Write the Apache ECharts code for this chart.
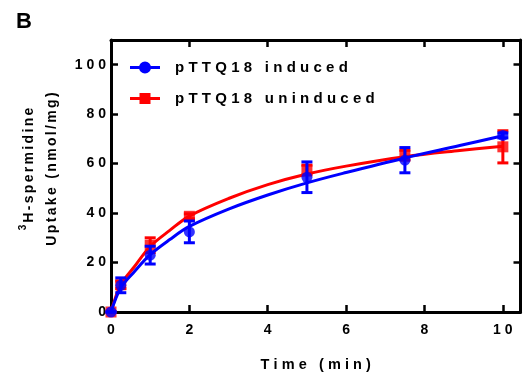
<!DOCTYPE html>
<html>
<head>
<meta charset="utf-8">
<script src="https://cdn.jsdelivr.net/npm/echarts@6/dist/echarts.min.js"></script>
<style>
  html, body { margin: 0; padding: 0; background: #fff; }
  #chart { width: 525px; height: 380px; }
</style>
</head>
<body>
<div id="chart"></div>
<script>
// Sampling times (min)
const times = [0, 0.25, 1, 2, 5, 7.5, 10];

// pTTQ18 induced: mean uptake and SEM
const inducedMean = [0, 10.8, 23.0, 32.4, 54.5, 61.4, 71.4];
const inducedSem  = [0, 3.0, 3.6, 4.4, 6.2, 5.1, 1.0];

// pTTQ18 uninduced: mean uptake and SEM
const uninducedMean = [0, 11.0, 27.0, 38.7, 57.4, 63.4, 66.8];
const uninducedSem  = [0, 1.5, 3.0, 1.0, 2.0, 2.0, 6.5];

// Fitted curves, sampled along the time axis
const fitTimes     = [0, 0.25, 0.6, 1, 1.5, 2, 3, 4, 5, 6, 7.5, 8.9, 10];
const inducedFit   = [0, 9.8, 16.4, 23.2, 29.3, 34.6, 41.6, 47.3, 52.2, 56.4, 62.3, 67.3, 71.3];
const uninducedFit = [0, 11.0, 18.4, 26.5, 33.0, 38.8, 45.9, 51.5, 55.8, 59.0, 62.8, 65.3, 67.0];

// Axis ticks
const xTicks = [0, 2, 4, 6, 8, 10];
const yTicks = [0, 20, 40, 60, 80, 100];

const seriesNames = ['pTTQ18 induced', 'pTTQ18 uninduced'];
const BLUE = '#0000FF';
const RED = '#FF0000';

// Widen the tracking of bold labels with thin / hair spaces
const spaced = s => Array.from(s).join('\u2009\u200A');
const spacedNarrow = s => Array.from(s).join('\u200A\u200A');

const pairs = (xs, ys) => xs.map((x, i) => [x, ys[i]]);
const errData = (xs, ms, es) => xs.map((x, i) => [x, ms[i] - es[i], ms[i] + es[i]]);

function errorBars(color) {
  return function (params, api) {
    const x = api.value(0);
    const lo = api.coord([x, api.value(1)]);
    const hi = api.coord([x, api.value(2)]);
    const half = 5.5;
    const style = { stroke: color, lineWidth: 3 };
    return {
      type: 'group',
      children: [
        { type: 'line', shape: { x1: lo[0], y1: lo[1], x2: hi[0], y2: hi[1] }, style },
        { type: 'line', shape: { x1: lo[0] - half, y1: lo[1], x2: lo[0] + half, y2: lo[1] }, style },
        { type: 'line', shape: { x1: hi[0] - half, y1: hi[1], x2: hi[0] + half, y2: hi[1] }, style }
      ]
    };
  };
}

const FONT = 'Liberation Sans, Arial, sans-serif';
const frameLine = { show: true, onZero: false, lineStyle: { color: '#000', width: 3 } };
const axisTick = { inside: true, length: 7, lineStyle: { color: '#000', width: 2.5 } };

// Legend keys: a short line with the series marker in its middle
const circleKey = 'path://M0,4.5h9.2v3h-9.2z M20.8,4.5h9.2v3h-9.2z M9,6a6,6 0 1,1 12,0a6,6 0 1,1 -12,0z';
const squareKey = 'path://M0,4.5h9.5v3h-9.5z M20.5,4.5h9.5v3h-9.5z M9.5,0.5h11v11h-11z';

const chart = echarts.init(document.getElementById('chart'), null, { renderer: 'canvas' });

chart.setOption({
  animation: false,
  backgroundColor: '#fff',
  title: {
    text: 'B', left: 11, top: 6,
    textStyle: { fontFamily: FONT, fontSize: 22, fontWeight: 'bold', color: '#000' }
  },
  grid: { left: 111, right: 4.5, top: 40, bottom: 68 },
  legend: {
    data: [
      { name: seriesNames[0], icon: circleKey },
      { name: seriesNames[1], icon: squareKey }
    ],
    orient: 'vertical',
    left: 125, top: 55,
    itemWidth: 30, itemHeight: 12, itemGap: 16,
    formatter: name => spaced(name),
    textStyle: { fontFamily: FONT, fontSize: 15, fontWeight: 'bold', color: '#000', padding: [0, 0, 0, 10] }
  },
  xAxis: [
    {
      type: 'value', min: 0, max: 10.45, interval: 2,
      name: spaced('Time (min)'), nameLocation: 'middle', nameGap: 45,
      nameTextStyle: { fontFamily: FONT, fontSize: 14.5, fontWeight: 'bold', color: '#000' },
      axisLine: frameLine, axisTick,
      axisLabel: {
        margin: 11, fontFamily: FONT, fontSize: 14, fontWeight: 'bold', color: '#000',
        showMaxLabel: false,
        formatter: v => xTicks.includes(v) ? spaced(String(v)) : ''
      },
      splitLine: { show: false }
    },
    {
      type: 'value', position: 'top', min: 0, max: 10.45, interval: 2,
      axisLine: frameLine, axisTick,
      axisLabel: { show: false }, splitLine: { show: false }
    }
  ],
  yAxis: [
    {
      type: 'value', min: 0, max: 110, interval: 20,
      name: '{t|}{sup|3}{t|' + spacedNarrow('H-spermidine') + '}\n{t|' + spacedNarrow('Uptake (nmol/mg)') + '}',
      nameLocation: 'middle', nameGap: 46.5, nameRotate: 90,
      nameTextStyle: {
        fontFamily: FONT, fontSize: 14, fontWeight: 'bold', color: '#000', lineHeight: 23,
        padding: [0, 0, 0, 14],
        rich: {
          t: { fontFamily: FONT, fontSize: 14, fontWeight: 'bold', color: '#000', lineHeight: 23 },
          sup: { fontFamily: FONT, fontSize: 10, fontWeight: 'bold', color: '#000', verticalAlign: 'top', lineHeight: 23, padding: [0, 2, 8, 0] }
        }
      },
      axisLine: frameLine, axisTick,
      axisLabel: {
        margin: 5, fontFamily: FONT, fontSize: 14, fontWeight: 'bold', color: '#000',
        formatter: v => yTicks.includes(v) ? spaced(String(v)) : ''
      },
      splitLine: { show: false }
    },
    {
      type: 'value', position: 'right', min: 0, max: 110, interval: 20,
      axisLine: frameLine, axisTick,
      axisLabel: { show: false }, splitLine: { show: false }
    }
  ],
  series: [
    {
      name: seriesNames[1] + ' err', type: 'custom', renderItem: errorBars(RED),
      data: errData(times, uninducedMean, uninducedSem), encode: { x: 0, y: [1, 2] }, z: 2, silent: true
    },
    {
      name: seriesNames[1], type: 'line', data: pairs(fitTimes, uninducedFit),
      smooth: 0.35, showSymbol: false, symbol: 'none',
      lineStyle: { color: RED, width: 3 }, itemStyle: { color: RED }, z: 3
    },
    {
      name: seriesNames[1] + ' pts', type: 'scatter', data: pairs(times, uninducedMean),
      symbol: 'rect', symbolSize: 11, itemStyle: { color: RED }, z: 4
    },
    {
      name: seriesNames[0] + ' err', type: 'custom', renderItem: errorBars(BLUE),
      data: errData(times, inducedMean, inducedSem), encode: { x: 0, y: [1, 2] }, z: 5, silent: true
    },
    {
      name: seriesNames[0], type: 'line', data: pairs(fitTimes, inducedFit),
      smooth: 0.35, showSymbol: false, symbol: 'none',
      lineStyle: { color: BLUE, width: 3 }, itemStyle: { color: BLUE }, z: 6
    },
    {
      name: seriesNames[0] + ' pts', type: 'scatter', data: pairs(times, inducedMean),
      symbol: 'circle', symbolSize: 11, itemStyle: { color: BLUE }, z: 7
    }
  ]
});
</script>
</body>
</html>
